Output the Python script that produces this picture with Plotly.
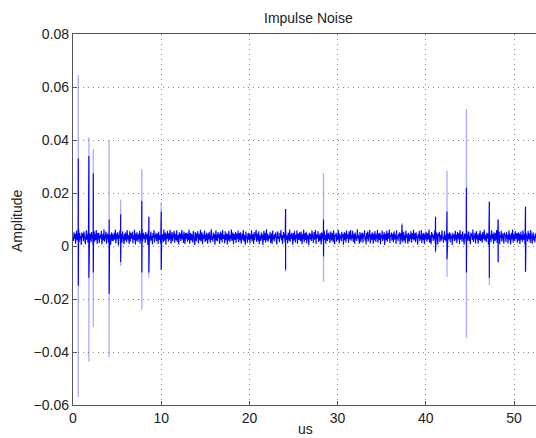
import plotly.graph_objects as go

# ---- data (background noise values in units of 1e-3) ----
sample_step_us = 0.0585
noise_milli = [
    3.4, 1.9, 5.2, 2.8, 4.6, 0.9, 3.7, 5.8, 2.1, 4.3, 3.0, 6.4, 1.5, 4.9, 2.6, 3.8, 0.4, 5.1, 3.3, 4.7,
    1.8, 5.5, 2.9, 4.0, 0.7, 3.6, 5.9, 2.4, 4.4, 1.2, 6.1, 3.1, 2.0, 4.8, 3.5, 1.4, 5.3, 2.7, 4.1, 0.2,
    3.9, 5.6, 1.7, 4.5, 2.3, 6.0, 3.2, 0.8, 4.9, 2.5, 5.0, 1.1, 3.7, 4.2, 2.9, 5.7, 0.6, 3.4, 4.6, 2.2,
    6.3, 1.6, 4.0, 3.1, 5.4, 0.9, 2.8, 4.7, 3.5, 1.3, 5.8, 2.6, 4.3, 0.5, 3.9, 5.2, 2.0, 4.4, 1.8, 3.3,
    5.0, 2.4, 6.2, 1.0, 3.6, 4.8, 2.7, 5.3, 0.3, 4.1, 3.0, 5.9, 1.9, 3.8, 4.5, 1.2, 5.5, 2.9, 3.4, 0.7,
    4.6, 2.1, 5.1, 3.7, 1.4, 6.0, 2.5, 4.2, 3.2, 0.8, 5.6, 1.7, 4.9, 2.8, 3.5, 5.4, 1.0, 4.0, 2.3, 6.1,
    3.0, 0.6, 4.7, 2.0, 5.2, 3.9, 1.5, 4.4, 2.6, 5.7, 0.9, 3.3, 4.8, 2.2, 6.3, 1.8, 3.6, 5.0, 2.7, 4.1,
    1.1, 5.3, 3.4, 2.5, 4.6, 0.4, 5.9, 2.9, 3.7, 1.6, 4.3, 5.5, 2.1, 3.8, 0.7, 4.9, 3.1, 6.0, 1.3, 4.2,
    2.8, 5.0, 1.9, 3.5, 4.7, 0.8, 5.4, 2.3, 4.0, 3.2, 1.0, 5.8, 2.6, 4.5, 3.6, 1.4, 6.2, 2.0, 3.9, 5.1,
    0.5, 4.4, 2.7, 5.6, 3.3, 1.7, 4.8, 2.4, 6.1, 3.0, 0.9, 4.2, 5.3, 1.8, 3.7, 2.9, 5.7, 1.2, 4.6, 3.4,
    2.2, 5.9, 1.5, 4.1, 3.8, 0.6, 5.2, 2.8, 4.7, 1.9, 3.5, 6.0, 2.5, 4.3, 1.1, 5.5, 3.2, 0.8, 4.9, 2.6,
    3.9, 5.1, 1.6, 4.5, 2.3, 6.2, 0.9, 3.6, 5.0, 2.1, 4.4, 3.0, 1.3, 5.7, 2.7, 4.0, 0.4, 5.3, 3.5, 1.8,
    4.8, 2.9, 5.6, 1.0, 3.4, 4.6, 2.2, 6.1, 1.7, 3.9, 5.2, 0.7, 4.3, 2.6, 3.7, 5.8, 1.4, 4.1, 2.0, 5.0,
    3.1, 0.9, 4.7, 2.5, 5.4, 3.6, 1.2, 4.0, 6.3, 2.3, 3.8, 1.6, 5.1, 2.9, 4.5, 0.5, 3.3, 5.9, 2.1, 4.2,
    1.8, 5.3, 3.0, 4.6, 0.8, 3.7, 5.5, 2.4, 4.9, 1.3, 6.0, 2.7, 3.5, 4.1, 1.0, 5.6, 2.2, 3.9, 4.8, 0.6,
    4.4, 2.0, 5.7, 3.2, 1.5, 4.0, 2.8, 6.2, 1.9, 3.6, 5.1, 0.7, 4.5, 3.0, 2.3, 5.4, 1.1, 4.7, 3.4, 2.6,
    5.8, 1.4, 3.8, 4.9, 2.1, 5.2, 0.9, 3.3, 4.6, 2.5, 6.0, 1.7, 4.2, 3.1, 0.5, 5.5, 2.9, 3.7, 1.2, 4.8,
    2.4, 5.0, 3.6, 1.0, 4.3, 2.7, 5.9, 1.8, 3.9, 4.5, 0.8, 5.3, 2.2, 4.1, 3.4, 6.1, 1.5, 3.0, 4.7, 2.0,
    5.6, 0.7, 4.0, 3.2, 1.9, 5.1, 2.6, 4.4, 0.4, 3.8, 5.7, 2.3, 4.9, 1.3, 3.5, 6.3, 2.1, 4.6, 1.6, 3.3,
    4.2, 2.8, 5.4, 1.1, 3.7, 4.8, 0.9, 5.8, 2.5, 3.9, 1.7, 4.5, 3.0, 5.2, 2.0, 0.6, 4.3, 5.5, 2.7, 3.6,
    1.4, 4.9, 3.1, 6.0, 2.2, 4.1, 0.8, 3.4, 5.3, 2.9, 4.6, 1.2, 5.7, 3.5, 2.4, 4.0, 1.0, 5.1, 3.8, 2.0,
    6.2, 1.6, 4.4, 2.7, 5.0, 3.3, 0.5, 4.8, 2.1, 5.6, 3.7, 1.3, 4.2, 2.9, 5.9, 0.9, 3.6, 4.7, 2.3, 5.2,
    3.0, 1.8, 5.5, 3.9, 0.7, 4.5, 2.6, 6.1, 1.4, 3.2, 4.9, 2.2, 5.4, 1.0, 3.8, 4.3, 2.8, 0.4, 5.0, 3.5,
    2.5, 4.6, 1.9, 5.8, 3.1, 4.0, 1.1, 5.3, 2.4, 3.7, 6.0, 0.8, 4.4, 2.9, 3.3, 5.6, 1.5, 4.1, 2.0, 4.9,
    3.6, 0.6, 5.2, 2.7, 4.7, 1.7, 3.9, 5.7, 2.3, 4.2, 0.9, 3.4, 6.2, 1.9, 4.6, 2.6, 5.1, 3.0, 1.2, 4.4,
    5.5, 2.1, 3.8, 4.9, 1.4, 5.9, 2.8, 0.7, 4.3, 3.5, 5.0, 1.6, 4.0, 2.4, 6.1, 3.2, 1.0, 4.7, 2.9, 3.7,
    1.8, 5.4, 3.1, 4.5, 0.5, 3.6, 5.2, 2.2, 4.8, 1.3, 5.8, 2.7, 3.9, 4.4, 1.1, 5.6, 2.5, 3.3, 6.0, 2.0,
    4.1, 2.9, 5.7, 1.5, 3.4, 4.6, 0.8, 5.1, 2.6, 3.8, 1.9, 6.3, 3.0, 4.2, 2.3, 0.9, 5.3, 3.6, 1.4, 4.8,
    2.7, 5.0, 1.2, 4.3, 3.5, 5.9, 2.0, 3.7, 0.6, 4.9, 2.8, 5.5, 1.7, 4.0, 3.2, 6.1, 1.0, 3.9, 4.5, 2.4,
    5.2, 3.3, 0.9, 4.7, 2.1, 5.6, 3.8, 1.5, 4.4, 2.9, 6.0, 1.2, 3.5, 4.8, 2.3, 5.0, 0.7, 4.1, 3.0, 5.8,
    1.9, 4.2, 2.6, 5.3, 0.4, 3.9, 4.6, 2.2, 5.7, 1.6, 3.4, 4.9, 2.8, 6.2, 1.1, 4.0, 3.6, 5.1, 2.0, 3.2,
    4.7, 1.3, 5.5, 3.0, 2.4, 4.3, 0.8, 5.9, 2.7, 3.8, 1.8, 4.5, 3.3, 5.2, 0.6, 4.8, 2.5, 3.7, 6.0, 1.5,
    3.5, 5.4, 2.1, 4.0, 1.0, 5.8, 3.1, 4.6, 2.3, 0.9, 5.0, 3.6, 1.7, 4.4, 2.8, 5.6, 1.2, 3.9, 4.9, 2.6,
    6.1, 2.0, 3.4, 4.8, 1.4, 5.2, 2.9, 3.7, 0.5, 4.5, 3.0, 5.7, 1.8, 4.1, 2.5, 6.0, 1.1, 3.3, 4.7, 2.2,
    5.0, 0.8, 4.3, 2.7, 5.5, 3.8, 1.6, 4.9, 2.4, 3.5, 6.2, 1.3, 4.2, 2.9, 0.7, 5.3, 3.2, 4.6, 1.9, 3.9,
    2.6, 5.8, 1.0, 4.4, 3.1, 5.1, 2.2, 0.6, 4.7, 3.6, 5.4, 1.5, 3.8, 4.1, 2.0, 5.9, 2.8, 3.4, 1.2, 4.5,
    5.6, 2.3, 4.0, 1.7, 3.7, 6.1, 0.9, 4.8, 2.5, 3.3, 5.2, 1.4, 4.6, 2.9, 3.9, 0.4, 5.0, 3.0, 4.3, 1.8,
    3.6, 5.7, 2.1, 4.2, 1.1, 5.3, 3.4, 2.6, 4.9, 0.8, 6.0, 2.4, 3.8, 4.4, 1.6, 5.5, 2.7, 3.1, 0.6, 4.7,
    2.9, 4.5, 1.3, 5.9, 3.2, 2.0, 4.1, 5.4, 1.8, 3.7, 0.7, 5.1, 3.5, 4.6, 2.3, 6.2, 1.5, 4.0, 2.8, 5.0,
    1.0, 3.9, 5.6, 2.5, 4.3, 0.9, 3.3, 4.8, 2.2, 5.8, 1.9, 3.6, 4.4, 1.2, 5.3, 2.7, 3.0, 6.1, 2.0, 4.2,
    3.4, 1.6, 5.0, 2.9, 4.7, 0.5, 3.8, 5.5, 2.3, 4.1, 1.4, 5.9, 3.1, 2.6, 4.5, 0.8, 5.2, 3.7, 1.8, 4.9,
    2.4, 6.0, 1.1, 3.5, 4.6, 2.1, 5.4, 0.7, 4.0, 3.2, 5.7, 1.7, 3.9, 4.8, 2.5, 0.9, 5.1, 3.6, 4.3, 1.5,
    5.3, 2.8, 4.2, 1.0, 3.7, 5.8, 2.2, 4.4, 0.6, 3.3, 5.0, 2.6, 6.2, 1.3, 4.5, 3.0, 1.9, 5.6, 2.7, 3.8,
    4.9, 1.2, 3.6, 5.2, 2.0, 4.7, 0.8, 3.9, 5.5, 2.4, 4.1, 1.6, 5.9, 3.1, 2.3, 4.6, 0.5, 3.4, 5.0, 2.9,
    4.0, 1.7, 5.7, 3.3, 2.5, 4.8, 1.1, 6.0, 2.8, 3.5, 0.9, 4.3, 5.1, 2.1, 3.8, 1.4, 4.6, 3.0, 5.4, 2.6,
]

spike_t = [0.6, 1.8, 2.3, 4.1, 5.4, 7.8, 8.6, 10.0, 24.1, 28.4, 37.3, 41.1, 42.4, 44.6, 47.2, 48.2, 51.3]
spike_hi = [0.0645, 0.041, 0.0366, 0.040, 0.0175, 0.029, 0.011, 0.0165, 0.014, 0.0275, 0.0087, 0.011, 0.0284, 0.0517, 0.0167, 0.010, 0.0148]
spike_lo = [-0.057, -0.0437, -0.0305, -0.042, -0.0075, -0.024, -0.012, -0.009, -0.0097, -0.0135, 0.001, -0.0027, -0.0116, -0.0346, -0.0147, -0.0063, -0.0097]
spike_hi_core = [0.033, 0.034, 0.0275, 0.010, 0.012, 0.017, 0.011, 0.013, 0.014, 0.010, 0.008, 0.011, 0.013, 0.022, 0.0167, 0.010, 0.0148]
spike_lo_core = [-0.015, -0.012, -0.010, -0.018, -0.006, -0.010, -0.010, -0.009, -0.009, -0.004, 0.002, -0.002, -0.005, -0.010, -0.012, -0.006, -0.0097]

x_ticks = [0, 10, 20, 30, 40, 50]
y_ticks = [-0.06, -0.04, -0.02, 0, 0.02, 0.04, 0.06, 0.08]

# ---- build traces ----
noise_t = [i * sample_step_us for i in range(len(noise_milli))]
noise_v = [v / 1000.0 for v in noise_milli]

pts = list(zip(noise_t, noise_v))
for t, h, l in zip(spike_t, spike_hi_core, spike_lo_core):
    pts.append((t, h))
    pts.append((t, l))
pts.sort(key=lambda p: p[0])
core_x = [p[0] for p in pts]
core_y = [p[1] for p in pts]

outer_x, outer_y = [], []
for t, h, l in zip(spike_t, spike_hi, spike_lo):
    outer_x += [t, t, None]
    outer_y += [h, l, None]

fig = go.Figure()
fig.add_trace(go.Scatter(x=outer_x, y=outer_y, mode="lines",
                         line=dict(color="rgba(70,70,255,0.45)", width=1.3),
                         hoverinfo="skip", showlegend=False))
fig.add_trace(go.Scatter(x=core_x, y=core_y, mode="lines",
                         line=dict(color="#0000ff", width=1.1),
                         showlegend=False))

font_family = "Liberation Sans, Arial, sans-serif"
axis_common = dict(
    showline=True, linecolor="#555555", linewidth=1.3,
    ticks="inside", ticklen=4, tickcolor="#555555",
    showgrid=True, gridcolor="#8a8a8a", gridwidth=1, griddash="1px,4px",
    zeroline=False, automargin=False,
    tickfont=dict(family=font_family, size=14, color="#222222"),
)

fig.update_layout(
    width=536, height=438,
    margin=dict(l=73, r=0, t=34, b=33),
    paper_bgcolor="white", plot_bgcolor="white",
    xaxis=dict(range=[0, 52.49], tickvals=x_ticks, mirror=True, **axis_common),
    yaxis=dict(range=[-0.06, 0.08], tickvals=y_ticks, mirror=False, **axis_common),
    font=dict(family=font_family, color="#222222"),
    annotations=[
        dict(text="Impulse Noise", xref="paper", yref="paper",
             x=(308 - 73) / 463, y=1 + (34 - 18) / 371, xanchor="center", yanchor="middle",
             showarrow=False, font=dict(size=14, color="#222222")),
        dict(text="Amplitude", xref="paper", yref="paper", textangle=-90,
             x=(17 - 73) / 463, y=(405 - 221) / 371, xanchor="center", yanchor="middle",
             showarrow=False, font=dict(size=14, color="#222222")),
        dict(text="us", xref="paper", yref="paper",
             x=(305 - 73) / 463, y=-(429 - 405) / 371, xanchor="center", yanchor="middle",
             showarrow=False, font=dict(size=14, color="#222222")),
    ],
)

fig.write_html("out.html", config={"displayModeBar": False})

# remove the default page margin so the figure sits at the window's top-left corner
with open("out.html", encoding="utf-8") as f:
    html = f.read()
html = html.replace("<head>", "<head><style>html,body{margin:0;padding:0;overflow:hidden;}</style>", 1)
with open("out.html", "w", encoding="utf-8") as f:
    f.write(html)
